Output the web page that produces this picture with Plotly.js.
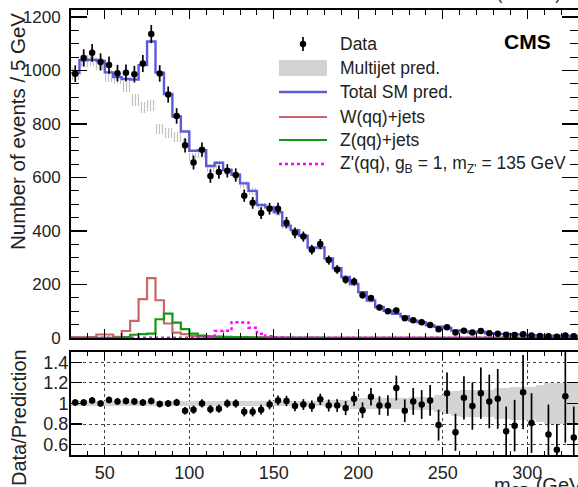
<!DOCTYPE html>
<html>
<head>
<meta charset="utf-8">
<script src="https://cdn.plot.ly/plotly-3.0.1.min.js"></script>
<style>html,body{margin:0;padding:0;background:#fff;}#chart{width:578px;height:487px;}</style>
</head>
<body>
<div id="chart"></div>
<script>
// ---- binning: 5 GeV bins from 30 to 330 GeV ----
const binLow = 30, binWidth = 5, nBins = 60;

// ---- data (events / 5 GeV) ----
const dataCounts = [988,1047,1066,1032,1020,990,991,986,1026,1136,
  989,910,830,720,656,704,605,620,625,609,
  532,505,467,483,483,431,393,379,330,351,
  291,256,218,211,160,149,114,100,103,74,
  66,59,48,33,40,20,27,20,26,18,
  16,12,11,14,9,7,6,5,9,6];
const dataErr = [31,32,33,32,32,31,31,31,32,34,
  31,30,29,27,26,27,25,25,25,25,
  23,22,22,22,22,21,20,19,18,19,
  17,16,15,15,13,12,11,10,10,9,
  8,8,7,6,6,4.5,5,4.5,5,4.2,
  4,3.5,3.3,3.7,3,2.6,2.4,2.2,3,2.4];

// ---- total SM prediction ----
const totalSM = [990,1038,1040,1036,993,975,968,966,1020,1108,
  992,912,828,772,700,702,643,655,628,610,
  578,550,497,488,470,420,403,382,338,338,
  297,261,228,202,171,140,116,102,90,80,
  65,59,47,42,37,28,25,20.5,23.5,17.6,
  15.3,15,14,12.6,10,9,8.5,8.5,8.4,8.5];

// ---- multijet prediction and its uncertainty ----
const multijet = [988,1036,1037,1023,979,970,939,890,861,868,
  781,767,751,725,677,688,634,648,622,605,
  574,547,494,485,468,418,402,381,337,337,
  296,260,227,201,170,139,115,101,89,79,
  64,58,46,41,36,27,24,20,23,17,
  15,14.5,13.5,12,9.5,8.5,8,8,8,8];
const multijetErr = [22,22,22,22,22,22,21,21,21,21,
  19,19,18,17,16,16,15,15,14,14,
  13,13,12,12,11,10,10,9,8,8,
  8,7,6,6,5,7,6,5,5,4,
  4,3.5,3,3.4,3,3.4,3,2.5,2.8,2.1,
  2.3,2.2,2.1,1.9,1.5,1.8,1.7,1.7,1.7,1.7];

// ---- W(qq)+jets, Z(qq)+jets, Z'(qq) signal ----
const wJets = [2,2,3,13,13,4,26,64,145,224,
  141,54,20,14,7,5,3,2,2,1.5,
  1,1,1,0.5,0.5,0.5,0.3,0.3,0.2,0.2,
  0.2,0.1,0.1,0.1,0.1,0,0,0,0,0,
  0,0,0,0,0,0,0,0,0,0,
  0,0,0,0,0,0,0,0,0,0];
const zJets = [0,0,0,0.5,0.5,1,3,12,14,16,
  70,91,57,33,16,9,6,5,4,3,
  3,2,2,2,1.5,1.5,1,1,1,1,
  0.5,0.5,0.5,0.5,0.5,0.5,0.5,0.5,0.5,0.5,
  0.3,0.3,0.3,0.3,0.3,0.3,0.3,0.3,0.3,0.3,
  0.2,0.2,0.2,0.2,0.2,0.2,0.2,0.2,0.2,0.2];
const zPrime = [1,1,1,1,1,1,1,1,1,1,
  1,1,1,1,1,2,6,26,27,59,
  58,38,16,7,3,1,1,1,1,1,
  1,1,1,1,1,1,1,1,1,1,
  1,1,1,1,1,1,1,1,1,1,
  1,1,1,1,1,1,1,1,1,1];

// ---- ratio panel: data / prediction ----
const ratio = [1.01,1.01,1.03,1.00,1.035,1.02,1.025,1.02,1.01,1.025,
  0.995,1.0,1.01,0.93,0.94,1.0,0.945,0.95,1.0,1.0,
  0.92,0.92,0.94,0.99,1.03,1.025,0.975,0.99,0.975,1.04,
  0.98,0.98,0.955,1.045,0.935,1.065,0.98,0.98,1.15,0.93,
  1.02,0.99,1.03,0.79,1.10,0.72,1.055,0.975,1.10,1.02,
  1.045,0.73,0.785,1.11,0.81,null,0.70,0.55,1.07,0.67];
const ratioErr = [0.032,0.032,0.032,0.032,0.032,0.032,0.032,0.032,0.032,0.032,
  0.032,0.033,0.035,0.037,0.04,0.04,0.04,0.04,0.04,0.04,
  0.045,0.045,0.047,0.047,0.048,0.05,0.05,0.052,0.055,0.055,
  0.058,0.062,0.068,0.07,0.075,0.085,0.09,0.1,0.12,0.11,
  0.13,0.14,0.15,0.15,0.2,0.18,0.21,0.23,0.25,0.26,
  0.29,0.24,0.25,0.36,0.29,0.3,0.29,0.25,0.45,0.3];
const ratioBand = [0.02,0.02,0.02,0.02,0.02,0.02,0.02,0.02,0.02,0.02,
  0.02,0.02,0.02,0.02,0.02,0.02,0.02,0.02,0.02,0.02,
  0.02,0.02,0.02,0.02,0.02,0.02,0.02,0.025,0.025,0.025,
  0.03,0.03,0.035,0.05,0.05,0.05,0.05,0.05,0.05,0.05,
  0.06,0.06,0.06,0.08,0.1,0.12,0.13,0.13,0.13,0.13,
  0.15,0.15,0.16,0.16,0.16,0.18,0.2,0.2,0.2,0.2];

// ---- derived grid ----
const centers = Array.from({length:nBins},(_,i)=>binLow+binWidth*(i+0.5));
const edges = Array.from({length:nBins+1},(_,i)=>binLow+binWidth*i);
const stepY = arr => arr.concat([arr[arr.length-1]]);

const FONT = 'Liberation Sans, Arial, Helvetica, sans-serif';

const traces = [
  {type:'bar', x:centers, y:multijetErr.map(e=>2*e), base:multijet.map((m,i)=>m-multijetErr[i]),
   width:binWidth, xaxis:'x', yaxis:'y', hoverinfo:'skip',
   marker:{color:'#dadada', line:{width:0}, pattern:{shape:'|', fgcolor:'#c2c2c2', size:3, solidity:0.4}}},
  {type:'scatter', mode:'lines', x:edges, y:stepY(wJets), line:{shape:'hv', color:'#cc6666', width:2.2}, xaxis:'x', yaxis:'y'},
  {type:'scatter', mode:'lines', x:edges, y:stepY(zJets), line:{shape:'hv', color:'#119911', width:2.2}, xaxis:'x', yaxis:'y'},
  {type:'scatter', mode:'lines', x:edges, y:stepY(zPrime), line:{shape:'hv', color:'#ff00ff', width:2.4, dash:'dot'}, xaxis:'x', yaxis:'y'},
  {type:'scatter', mode:'lines', x:edges, y:stepY(totalSM), line:{shape:'hv', color:'#5b5bdd', width:2.4}, xaxis:'x', yaxis:'y'},
  {type:'scatter', mode:'markers', x:centers, y:dataCounts,
   error_y:{type:'data', array:dataErr, visible:true, color:'#000', thickness:1.7, width:0},
   marker:{color:'#000', size:6.5}, xaxis:'x', yaxis:'y'},
  // ratio panel
  {type:'bar', x:centers, y:ratioBand.map(e=>2*e), base:ratioBand.map(e=>1-e), width:binWidth,
   xaxis:'x2', yaxis:'y2', hoverinfo:'skip', marker:{color:'#d4d4d4', line:{width:0}}},
  {type:'scatter', mode:'markers', x:centers, y:ratio,
   error_y:{type:'data', array:ratioErr, visible:true, color:'#000', thickness:1.7, width:0},
   marker:{color:'#000', size:6.5}, xaxis:'x2', yaxis:'y2'}
];

// pixel helpers for legend / labels (plot area: x 71..578, y 10..455)
const L=71, R=578, T=10, B=455;
const px = v => (v-L)/(R-L);
const py = v => (B-v)/(B-T);

const axBase = {showline:true, linecolor:'#000', linewidth:2, mirror:'allticks', ticks:'inside',
  tickcolor:'#000', tickwidth:1.2, zeroline:false, showgrid:false,
  tickfont:{family:FONT, size:17, color:'#222'}};

const legendRows = [
  {y:44, text:'Data'},
  {y:68, text:'Multijet pred.'},
  {y:92, text:'Total SM pred.'},
  {y:117, text:'W(qq)+jets'},
  {y:140, text:'Z(qq)+jets'},
  {y:164, text:"Z'(qq), g<sub>B</sub> = 1, m<sub>Z'</sub> = 135 GeV"}
];

const shapes = [
  {type:'line', xref:'paper', yref:'paper', x0:px(303), x1:px(303), y0:py(37), y1:py(51), line:{color:'#000', width:1.7}},
  {type:'circle', xref:'paper', yref:'paper', x0:px(299.8), x1:px(306.2), y0:py(40.8), y1:py(47.2), fillcolor:'#000', line:{color:'#000', width:0}},
  {type:'rect', xref:'paper', yref:'paper', x0:px(279), x1:px(327), y0:py(60), y1:py(76), fillcolor:'#d2d2d2', line:{width:0}},
  {type:'line', xref:'paper', yref:'paper', x0:px(279), x1:px(327), y0:py(92), y1:py(92), line:{color:'#5b5bdd', width:2.4}},
  {type:'line', xref:'paper', yref:'paper', x0:px(279), x1:px(327), y0:py(117), y1:py(117), line:{color:'#cc6666', width:2.2}},
  {type:'line', xref:'paper', yref:'paper', x0:px(279), x1:px(327), y0:py(140), y1:py(140), line:{color:'#119911', width:2.2}},
  {type:'line', xref:'paper', yref:'paper', x0:px(279), x1:px(327), y0:py(164), y1:py(164), line:{color:'#ff00ff', width:2.4, dash:'dot'}}
];

const annotations = legendRows.map(r=>({xref:'paper', yref:'paper', x:px(338), y:py(r.y), xanchor:'left', yanchor:'middle',
  text:r.text, showarrow:false, font:{family:FONT, size:17.5, color:'#222'}}));
annotations.push(
  {xref:'paper', yref:'paper', x:px(527), y:py(41), xanchor:'center', yanchor:'middle', text:'<b>CMS</b>', showarrow:false,
   font:{family:FONT, size:21, color:'#000'}},
  {xref:'paper', yref:'paper', x:px(563), y:py(6), xanchor:'right', yanchor:'bottom', text:'2.7 fb<sup>-1</sup> (13 TeV)', showarrow:false,
   font:{family:FONT, size:17, color:'#222'}},
  {xref:'paper', yref:'paper', x:px(17), y:py(132), xanchor:'center', yanchor:'middle', textangle:-90,
   text:'Number of events / 5 GeV', showarrow:false, font:{family:FONT, size:20.5, color:'#222'}},
  {xref:'paper', yref:'paper', x:px(19), y:py(418), xanchor:'center', yanchor:'middle', textangle:-90,
   text:'Data/Prediction', showarrow:false, font:{family:FONT, size:20, color:'#222'}},
  {xref:'paper', yref:'paper', x:px(492), y:py(487), xanchor:'left', yanchor:'middle',
   text:'m<sub>SD</sub> (GeV)', showarrow:false, font:{family:FONT, size:20, color:'#222'}}
);

const layout = {
  width:578, height:487,
  margin:{l:71, r:0, t:10, b:32},
  paper_bgcolor:'#fff', plot_bgcolor:'#fff',
  showlegend:false, barmode:'overlay', bargap:0,
  font:{family:FONT, color:'#222'},
  xaxis:Object.assign({}, axBase, {domain:[0,1], anchor:'y', range:[30,330], dtick:50, tick0:0, ticklen:9,
    showticklabels:false, minor:{ticks:'inside', dtick:10, ticklen:5, tickcolor:'#000', tickwidth:1}}),
  yaxis:Object.assign({}, axBase, {domain:[0.263,1], anchor:'x', range:[0,1226], dtick:200, tick0:0, ticklen:16,
    ticklabelstandoff:5, minor:{ticks:'inside', dtick:50, ticklen:8, tickcolor:'#000', tickwidth:1}}),
  xaxis2:Object.assign({}, axBase, {domain:[0,1], anchor:'y2', range:[30,330], dtick:50, tick0:0, ticklen:8,
    showgrid:true, gridcolor:'#444', griddash:'dot', gridwidth:1,
    tickfont:{family:FONT, size:18, color:'#222'},
    minor:{ticks:'inside', dtick:10, ticklen:4, tickcolor:'#000', tickwidth:1}}),
  yaxis2:Object.assign({}, axBase, {domain:[0,0.2315], anchor:'x2', range:[0.5,1.5], dtick:0.2, tick0:0, ticklen:11,
    showgrid:true, gridcolor:'#444', griddash:'dot', gridwidth:1, ticklabelstandoff:-3,
    tickfont:{family:FONT, size:18, color:'#222'}}),
  shapes:shapes,
  annotations:annotations
};

Plotly.newPlot('chart', traces, layout, {staticPlot:true, displayModeBar:false});
</script>
</body>
</html>
